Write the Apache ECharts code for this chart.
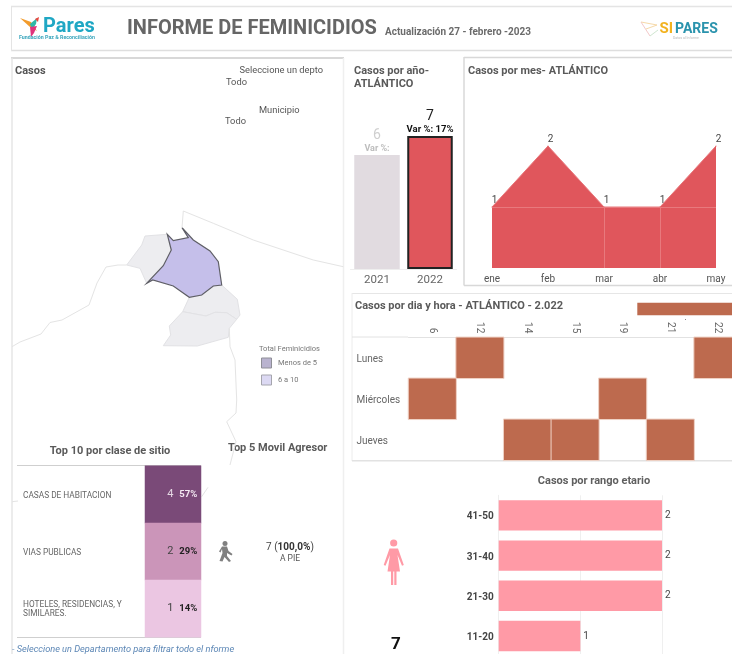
<!DOCTYPE html>
<html><head><meta charset="utf-8">
<style>html,body{margin:0;padding:0;background:#fff;overflow:hidden;width:732px;height:654px}#c{width:760px;height:680px}</style>
<script src="https://cdn.jsdelivr.net/npm/echarts@6/dist/echarts.min.js"></script>
</head><body><div id="c"></div>
<script>
// ---------- data ----------
const years = ['2021', '2022'];
const yearCases = [6, 7];
const yearVar = ['Var %:', 'Var %: 17%'];
const months = ['ene', 'feb', 'mar', 'abr', 'may'];
const monthCases = [1, 2, 1, 1, 2];
const hours = ['6', '12', '14', '15', '19', '21', '22'];
const days = ['Lunes', 'Miércoles', 'Jueves'];
const hourDayCases = [[1, 0, 1], [6, 0, 1], [0, 1, 1], [4, 1, 1], [2, 2, 1], [3, 2, 1], [5, 2, 1]];
const totalCases = [7];
const ages = ['11-20', '21-30', '31-40', '41-50'];
const ageCases = [1, 2, 2, 2];
const sites = ['CASAS DE HABITACION', 'VIAS PUBLICAS', 'HOTELES, RESIDENCIAS, Y\nSIMILARES.'];
const siteCases = [4, 2, 1];
const sitePct = ['57%', '29%', '14%'];
// map outlines, in map units (x, -y)
const atlanticoShape = [[182,227.7],[188.3,237.7],[173.3,240.7],[167.3,234.3],[171.3,250],[163.3,265.7],[146.7,283.3],[152.7,280],[173.3,286],[189.3,297.3],[201.7,295],[213.3,286],[221.7,285],[218.3,261.7],[210,251],[193.3,240],[182,227.7]];
const neighbourA = [[167.3,234.3],[145,236],[141.7,245],[126.7,265],[140,268.3],[146.7,283.3],[163.3,265.7],[171.3,250],[167.3,234.3]];
const neighbourB = [[189.3,297.3],[182.7,311.7],[206,316],[215,312.3],[226.7,312.7],[236.7,319.3],[240,315],[237.3,299.3],[221.7,285],[213.3,286],[201.7,295],[189.3,297.3]];
const neighbourC = [[182.7,311.7],[169.3,326],[170.7,335],[163.3,345.7],[197.3,346],[228.3,337.3],[229.3,328.3],[236.7,319.3],[226.7,312.7],[215,312.3],[206,316],[182.7,311.7]];
const coastLine = [[182,227.7],[183.3,211],[213.3,223.3],[253.3,240],[313.3,260],[343.3,266.7]];
const westLine = [[126.7,265],[118,265],[106,267],[97,283],[89,305],[62,320],[50,322.5],[41,334],[20,342],[12,346.7]];
const eastLine = [[229.3,328.3],[230,346.7],[235,360],[236.7,400],[236,413],[226.7,421.7],[236,441.7],[230,465]];
const frag1 = [[201.7,496.7],[208,487.3]];
const frag2 = [[12,501.7],[18,501]];

const toGeo = p => p.map(([x, y]) => [x, -y]);
const poly = (name, c) => ({ type: 'Feature', properties: { name }, geometry: { type: 'Polygon', coordinates: [toGeo(c)] } });
const line = (name, c) => ({ type: 'Feature', properties: { name }, geometry: { type: 'LineString', coordinates: toGeo(c) } });
echarts.registerMap('zona', { type: 'FeatureCollection', features: [
  poly('A', neighbourA), poly('B', neighbourB), poly('C', neighbourC), poly('Atlantico', atlanticoShape),
  line('coast', coastLine), line('west', westLine), line('east', eastLine), line('f1', frag1), line('f2', frag2)
] });

// ---------- helpers ----------
const F = 'Roboto, sans-serif';
const T = (x, y, text, size, color, bold, extra) => ({ type: 'text', x, y: y + 1, silent: true,
  style: Object.assign({ text, fontFamily: F, fontSize: size, fill: color, fontWeight: bold ? 'bold' : 'normal', verticalAlign: 'middle', align: 'left' }, extra || {}) });
const L = (x1, y1, x2, y2, c, w) => ({ type: 'line', silent: true, shape: { x1, y1, x2, y2 }, style: { stroke: c, lineWidth: w || 1 } });
const R = (x, y, width, height, fill, stroke) => ({ type: 'rect', silent: true, shape: { x, y, width, height }, style: { fill, stroke: stroke || null, lineWidth: 1 } });
const P = (points, fill) => ({ type: 'polygon', silent: true, shape: { points }, style: { fill } });

const hidden = { show: false };
const graphics = [
  // panels
  L(11, 6.5, 760, 6.5, '#e4e4e4', 1.5), L(11, 50.5, 760, 50.5, '#dedede', 1.5), L(11.5, 6, 11.5, 51, '#e4e4e4', 1),
  L(11, 58, 344, 58, '#d8d8d8', 2), L(12, 58, 12, 680, '#e6e6e6', 1.5), L(343.5, 58, 343.5, 680, '#efefef', 1.5),
  L(464, 57.5, 760, 57.5, '#d8d8d8', 1.5), L(464, 57, 464, 285.5, '#d8d8d8', 1.5), L(464, 285.5, 760, 285.5, '#d8d8d8', 1.5),
  L(352, 293.5, 760, 293.5, '#e6e6e6', 1), L(352, 293, 352, 461, '#ececec', 1), L(352, 460.8, 760, 460.8, '#e2e2e2', 1.5),
  L(352, 337, 408, 337, '#e2e2e2', 1),
  // Pares logo
  P([[20,18],[31,22],[37,31],[30,27]], '#f29b2c'), P([[37,18],[36,24],[32,30],[30,24]], '#2fb7a6'),
  P([[30,27],[37,26],[34,33],[31,37]], '#e0347c'), P([[35,19],[39,17],[38,22]], '#e8473f'),
  T(43, 26, 'Pares', 20, '#1fa7c4', true), T(19, 36.5, 'Fundación Paz & Reconciliación', 5.3, '#3aa6bd', true),
  // header
  T(127, 28, 'INFORME DE FEMINICIDIOS', 20, '#666666', true),
  T(385, 31.5, 'Actualización 27 - febrero -2023', 10, '#6b6b6b', true),
  // Sipares logo
  L(641, 22, 657, 25, '#f6d9a8', 1), L(641, 22, 650, 36, '#f3c9c9', 1), L(650, 36, 658, 30, '#cfe6d0', 1), L(646, 29, 657, 25, '#f6d9a8', 1),
  T(659.5, 28, 'SI', 15, '#f2b21f', true), T(675, 28, 'PARES', 14, '#2a93ad', true),
  T(673, 37.5, 'Datos al Informe', 3.5, '#b9b9b9', false),
  // map panel text
  T(15, 70, 'Casos', 11, '#555555', true),
  T(239.5, 70, 'Seleccione un depto', 9.3, '#555555', false), T(226, 82, 'Todo', 9.3, '#555555', false),
  T(259, 109.5, 'Municipio', 9.3, '#555555', false), T(225, 120.5, 'Todo', 9.3, '#555555', false),
  T(259, 348.5, 'Total Feminicidios', 7.5, '#777777', false),
  R(261.5, 358, 10, 10, '#b9b3cf', '#8f8f97'), T(278, 362, 'Menos de 5', 7.5, '#777777', false),
  R(261.5, 375, 10, 10, '#dcd9f3', '#a5a5ad'), T(278, 379, '6 a 10', 7.5, '#777777', false),
  // other titles
  T(354, 70, 'Casos por año-', 11, '#5a5a5a', true), T(354, 83.5, 'ATLÁNTICO', 11, '#5a5a5a', true),
  T(468, 70, 'Casos por mes- ATLÁNTICO', 11, '#5a5a5a', true),
  T(355, 305.5, 'Casos por dia y hora - ATLÁNTICO - 2.022', 11, '#5a5a5a', true),
  R(685, 319, 1, 1, '#888888'),
  T(110, 450.5, 'Top 10 por clase de sitio', 11, '#5a5a5a', true, { align: 'center' }),
  T(228, 447.5, 'Top 5 Movil Agresor', 11, '#5a5a5a', true),
  L(17, 465.5, 201, 465.5, '#cfcfcf', 1), L(17, 637.5, 201, 637.5, '#cfcfcf', 1),
  // walking icon
  { type: 'circle', silent: true, shape: { cx: 225, cy: 543.5, r: 2.5 }, style: { fill: '#808080' } },
  P([[222,546.5],[227,546.5],[228.5,551],[232.5,554],[231.5,555.5],[227,553],[227,556],[231,561],[229,562],[224.5,557],[222.5,561.5],[219.5,561],[222.5,553],[222,549],[220.5,552.5],[219,551.5]], '#808080'),
  { type: 'text', x: 290, y: 547, silent: true, style: { text: '7 ({b|100,0%})', fontFamily: F, fontSize: 10, fill: '#444444', align: 'center', verticalAlign: 'middle', rich: { b: { fontFamily: F, fontSize: 10, fontWeight: 'bold', fill: '#333333' } } } },
  T(290, 558, 'A PIE', 8.5, '#555555', false, { align: 'center' }),
  T(12, 648.5, '- Seleccione un Departamento para filtrar todo el nforme', 9.2, '#5b86b5', false, { fontStyle: 'italic' }),
  // woman icon
  { type: 'circle', silent: true, shape: { cx: 393.7, cy: 543, r: 3.6 }, style: { fill: '#ff9aa6' } },
  P([[389.5,548.5],[398,548.5],[403.8,565],[402,565.8],[397.5,555],[400,571.5],[396.5,571.5],[396.5,585],[394.3,585],[394.3,571.5],[393.2,571.5],[393.2,585],[391,585],[391,571.5],[387.5,571.5],[390,555],[385.5,565.8],[383.7,565]], '#ff9aa6'),
  T(396, 644, '7', 17, '#111111', true, { align: 'center' }),
  T(594, 480.5, 'Casos por rango etario', 11, '#5f5f5f', true, { align: 'center' })
];

// axis labels pushed down a little through a rich style on their first line
const nudge = v => v.split('\n').map((s, i) => (i === 0 ? '{a|' : '{b|') + s + '}').join('\n');
const richOf = (style, top) => ({ a: Object.assign({ padding: [top, 0, 0, 0] }, style), b: style });

const areaC = '#e0565c';
const chart = echarts.init(document.getElementById('c'), null, { renderer: 'canvas' });
chart.setOption({
  animation: false,
  backgroundColor: '#ffffff',
  textStyle: { fontFamily: F },
  graphic: { elements: graphics },
  geo: {
    map: 'zona', silent: true, roam: false, aspectScale: 1, z: 1,
    left: 12, top: 211, width: 331.3, height: 290.7,
    label: { show: false },
    itemStyle: { areaColor: '#ededf0', borderColor: '#e2e2e5', borderWidth: 1 },
    regions: [
      { name: 'Atlantico', itemStyle: { areaColor: '#c5bfea', borderColor: '#5f5f66', borderWidth: 1.2 } },
      { name: 'coast', itemStyle: { areaColor: 'none', borderColor: '#e4e4e4', borderWidth: 1 } },
      { name: 'west', itemStyle: { areaColor: 'none', borderColor: '#e4e4e4', borderWidth: 1 } },
      { name: 'east', itemStyle: { areaColor: 'none', borderColor: '#e4e4e4', borderWidth: 1 } },
      { name: 'f1', itemStyle: { areaColor: 'none', borderColor: '#e4e4e4', borderWidth: 1 } },
      { name: 'f2', itemStyle: { areaColor: 'none', borderColor: '#e4e4e4', borderWidth: 1 } }
    ]
  },
  grid: [
    { left: 350.5, top: 136, width: 106, height: 133 },
    { left: 492, top: 146, width: 224, height: 122 },
    { left: 408.5, top: 337.3, width: 333.2, height: 123 },
    { left: 637.3, top: 302.7, width: 100, height: 12.6 },
    { left: 498.7, top: 495.3, width: 163.3, height: 160.8 },
    { left: 145, top: 465.7, width: 56, height: 171.6 }
  ],
  xAxis: [
    { gridIndex: 0, type: 'category', data: years, axisTick: hidden, axisLine: { lineStyle: { color: '#eeeeee' } }, axisLabel: { fontSize: 11.5, color: '#666666', margin: 5 } },
    { gridIndex: 1, type: 'category', data: months, boundaryGap: false, axisTick: hidden, axisLine: hidden, axisLabel: { fontSize: 10, color: '#555555', margin: 6, interval: 0 } },
    { gridIndex: 2, type: 'category', data: hours, position: 'top', axisTick: hidden, axisLine: { lineStyle: { color: '#e2e2e2' } }, axisLabel: { rotate: 90, fontSize: 10, color: '#666666', margin: 4, interval: 0 } },
    { gridIndex: 3, type: 'value', min: 0, max: 7, show: false },
    { gridIndex: 4, type: 'value', min: 0, max: 2, interval: 1, axisLine: hidden, axisTick: hidden, axisLabel: hidden, splitLine: { show: true, lineStyle: { color: '#efefef' } } },
    { gridIndex: 5, type: 'category', data: ['Casos'], show: false }
  ],
  yAxis: [
    { gridIndex: 0, type: 'value', min: 0, max: 7, show: false },
    { gridIndex: 1, type: 'value', min: 0, max: 2, show: false },
    { gridIndex: 2, type: 'category', data: days, inverse: true, axisTick: hidden, axisLine: hidden, axisLabel: { align: 'left', margin: 52, formatter: nudge, rich: richOf({ fontSize: 10, color: '#666666', align: 'left' }, 4) } },
    { gridIndex: 3, type: 'category', data: ['Total'], show: false },
    { gridIndex: 4, type: 'category', data: ages, axisTick: hidden, axisLine: { lineStyle: { color: '#efefef' } }, axisLabel: { margin: 5, formatter: nudge, rich: richOf({ fontSize: 10, fontWeight: 'bold', color: '#444444' }, 3) } },
    { gridIndex: 5, type: 'category', data: sites, inverse: true, axisTick: hidden, axisLine: hidden, axisLabel: { align: 'left', margin: 122, formatter: nudge, rich: richOf({ fontSize: 8.3, lineHeight: 11, color: '#666666', align: 'left' }, 3) } }
  ],
  series: [
    { type: 'bar', xAxisIndex: 0, yAxisIndex: 0, barWidth: 45.5, silent: true,
      data: yearCases.map((v, i) => ({ value: v,
        itemStyle: i === 0 ? { color: '#e1dbe0' } : { color: '#e0565c', borderColor: '#222222', borderWidth: 2 },
        label: { show: true, position: 'top', distance: 0, formatter: p => '{' + (i ? 'n1' : 'n0') + '|' + v + '}\n{' + (i ? 'v1' : 'v0') + '|' + yearVar[i] + '}',
          rich: { n0: { fontSize: 14, color: '#cfcfcf', lineHeight: 14, align: 'center' }, v0: { fontSize: 9, fontWeight: 'bold', color: '#bdbdbd', lineHeight: 13, align: 'center' },
                  n1: { fontSize: 14, color: '#222222', lineHeight: 14, align: 'center' }, v1: { fontSize: 9.5, fontWeight: 'bold', color: '#111111', lineHeight: 13, align: 'center' } } } })) },
    { type: 'line', xAxisIndex: 1, yAxisIndex: 1, data: monthCases, silent: true, symbol: 'circle', symbolSize: 1, showSymbol: true,
      itemStyle: { color: areaC }, lineStyle: { color: '#e7787c', width: 1 }, areaStyle: { color: areaC, opacity: 1 },
      label: { show: true, position: 'top', distance: 1, offset: [2.5, 0], fontSize: 10, color: '#444444' },
      markLine: { silent: true, symbol: 'none', animation: false, label: { show: false }, lineStyle: { color: '#e8797d', width: 1, type: 'solid' },
        data: [
          [{ coord: [months[0], monthCases[0]] }, { coord: [months[4], monthCases[0]] }],
          [{ coord: [months[2], 0] }, { coord: [months[2], monthCases[2]] }],
          [{ coord: [months[3], 0] }, { coord: [months[3], monthCases[3]] }]
        ] } },
    { type: 'heatmap', xAxisIndex: 2, yAxisIndex: 2, data: hourDayCases, silent: true, label: { show: false },
      itemStyle: { color: '#bd6a4e', borderColor: '#efd2c6', borderWidth: 1 } },
    { type: 'bar', xAxisIndex: 3, yAxisIndex: 3, data: totalCases, barWidth: '100%', silent: true, itemStyle: { color: '#bd6a4e' } },
    { type: 'bar', xAxisIndex: 4, yAxisIndex: 4, data: ageCases, barWidth: 30.4, silent: true, itemStyle: { color: '#ff9aa6' },
      label: { show: true, position: 'right', distance: 3, fontSize: 10, color: '#444444' } },
    { type: 'heatmap', xAxisIndex: 5, yAxisIndex: 5, silent: true,
      data: siteCases.map((v, i) => ({ value: [0, i, v], itemStyle: { color: ['#7a4a78', '#cb95b9', '#ebc6e2'][i] } })),
      label: { show: true, position: 'insideRight', distance: 4,
        formatter: p => { const i = p.dataIndex, k = i === 0 ? '0' : '1'; return '{n' + k + '|' + siteCases[i] + '}  {p' + k + '|' + sitePct[i] + '}'; },
        rich: { n0: { fontSize: 11, color: '#e4d7e3' }, p0: { fontSize: 9.5, fontWeight: 'bold', color: '#f3e9f2' },
                n1: { fontSize: 11, color: '#444444' }, p1: { fontSize: 9.5, fontWeight: 'bold', color: '#1e1e1e' } } } }
  ]
});
</script></body></html>
